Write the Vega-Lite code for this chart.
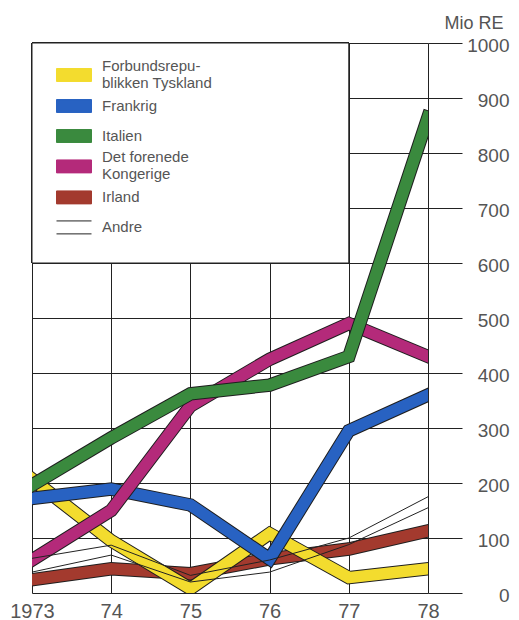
{
  "$schema": "https://vega.github.io/schema/vega-lite/v6.json",
  "width": 396,
  "height": 550,
  "autosize": "none",
  "padding": {"left": 32, "top": 43, "right": 91, "bottom": 27},
  "background": "white",
  "config": {"view": {"stroke": null}, "font": "Liberation Sans"},
  "data": {
    "values": [
      {"year": 1973, "land": "Forbundsrepublikken Tyskland", "line": "de", "value": 207},
      {"year": 1974, "land": "Forbundsrepublikken Tyskland", "line": "de", "value": 95},
      {"year": 1975, "land": "Forbundsrepublikken Tyskland", "line": "de", "value": 8},
      {"year": 1976, "land": "Forbundsrepublikken Tyskland", "line": "de", "value": 108},
      {"year": 1977, "land": "Forbundsrepublikken Tyskland", "line": "de", "value": 28},
      {"year": 1978, "land": "Forbundsrepublikken Tyskland", "line": "de", "value": 44},
      {"year": 1973, "land": "Frankrig", "line": "fr", "value": 172},
      {"year": 1974, "land": "Frankrig", "line": "fr", "value": 189},
      {"year": 1975, "land": "Frankrig", "line": "fr", "value": 160},
      {"year": 1976, "land": "Frankrig", "line": "fr", "value": 62},
      {"year": 1977, "land": "Frankrig", "line": "fr", "value": 295},
      {"year": 1978, "land": "Frankrig", "line": "fr", "value": 360},
      {"year": 1973, "land": "Italien", "line": "it", "value": 196},
      {"year": 1974, "land": "Italien", "line": "it", "value": 282},
      {"year": 1975, "land": "Italien", "line": "it", "value": 362},
      {"year": 1976, "land": "Italien", "line": "it", "value": 378},
      {"year": 1977, "land": "Italien", "line": "it", "value": 430},
      {"year": 1978, "land": "Italien", "line": "it", "value": 865},
      {"year": 1973, "land": "Det forenede Kongerige", "line": "uk", "value": 60},
      {"year": 1974, "land": "Det forenede Kongerige", "line": "uk", "value": 150},
      {"year": 1975, "land": "Det forenede Kongerige", "line": "uk", "value": 340},
      {"year": 1976, "land": "Det forenede Kongerige", "line": "uk", "value": 425},
      {"year": 1977, "land": "Det forenede Kongerige", "line": "uk", "value": 490},
      {"year": 1978, "land": "Det forenede Kongerige", "line": "uk", "value": 430},
      {"year": 1973, "land": "Irland", "line": "ie", "value": 24},
      {"year": 1974, "land": "Irland", "line": "ie", "value": 44},
      {"year": 1975, "land": "Irland", "line": "ie", "value": 35},
      {"year": 1976, "land": "Irland", "line": "ie", "value": 62},
      {"year": 1977, "land": "Irland", "line": "ie", "value": 80},
      {"year": 1978, "land": "Irland", "line": "ie", "value": 113},
      {"year": 1973, "land": "Andre", "line": "a", "value": 63},
      {"year": 1974, "land": "Andre", "line": "a", "value": 87},
      {"year": 1975, "land": "Andre", "line": "a", "value": 32},
      {"year": 1976, "land": "Andre", "line": "a", "value": 60},
      {"year": 1977, "land": "Andre", "line": "a", "value": 100},
      {"year": 1978, "land": "Andre", "line": "a", "value": 175},
      {"year": 1973, "land": "Andre", "line": "b", "value": 38},
      {"year": 1974, "land": "Andre", "line": "b", "value": 69},
      {"year": 1975, "land": "Andre", "line": "b", "value": 20},
      {"year": 1976, "land": "Andre", "line": "b", "value": 38},
      {"year": 1977, "land": "Andre", "line": "b", "value": 88},
      {"year": 1978, "land": "Andre", "line": "b", "value": 155}
    ]
  },
  "encoding": {
    "x": {
      "field": "year",
      "type": "quantitative",
      "scale": {"domain": [1973, 1978], "nice": false, "zero": false},
      "axis": {
        "orient": "bottom",
        "title": null,
        "values": [1973, 1974, 1975, 1976, 1977, 1978],
        "grid": true,
        "gridColor": "#222",
        "gridOpacity": 1,
        "gridWidth": 1,
        "ticks": false,
        "tickSize": 0,
        "domain": false,
        "labelExpr": "datum.value == 1973 ? '1973' : slice(toString(datum.value), 2)",
        "labelFontSize": 20,
        "labelColor": "#555",
        "labelBaseline": "alphabetic",
        "labelPadding": 24,
        "labelFlush": false,
        "labelOverlap": false
      }
    },
    "y": {
      "field": "value",
      "type": "quantitative",
      "scale": {"domain": [0, 1000], "nice": false},
      "axis": {
        "orient": "right",
        "values": [0, 100, 200, 300, 400, 500, 600, 700, 800, 900, 1000],
        "format": "d",
        "grid": true,
        "gridColor": "#222",
        "gridOpacity": 1,
        "gridWidth": 1,
        "ticks": true,
        "tickSize": 34,
        "tickColor": "#222",
        "tickWidth": 1,
        "domain": false,
        "labelAlign": "right",
        "labelBaseline": "middle",
        "labelPadding": 47,
        "labelOffset": 2,
        "labelFontSize": 19,
        "labelColor": "#555",
        "labelFlush": false,
        "labelOverlap": false,
        "title": "Mio RE",
        "titleAngle": 0,
        "titleX": 75,
        "titleY": -15,
        "titleAlign": "right",
        "titleBaseline": "alphabetic",
        "titleFontSize": 18,
        "titleFontWeight": "normal",
        "titleColor": "#555"
      }
    }
  },
  "layer": [
    {
      "mark": {"type": "rect", "fill": "white", "stroke": "#222", "strokeWidth": 1},
      "encoding": {
        "x": {"datum": 1973, "type": "quantitative"},
        "x2": {"datum": 1977},
        "y": {"datum": 600, "type": "quantitative"},
        "y2": {"datum": 1000}
      }
    },
    {
      "transform": [{"filter": "datum.land === 'Irland'"}],
      "layer": [
        {"mark": {"type": "line", "stroke": "#1e1e1e", "strokeWidth": 13.5, "strokeJoin": "miter", "strokeCap": "square", "clip": true}, "encoding": {}},
        {"mark": {"type": "line", "strokeWidth": 11.5, "strokeJoin": "miter", "strokeCap": "square", "clip": true},
         "encoding": {
           "color": {
             "field": "land",
             "type": "nominal",
             "scale": {
               "domain": ["Forbundsrepublikken Tyskland", "Frankrig", "Italien", "Det forenede Kongerige", "Irland", "Andre"],
               "range": ["#f3dc2e", "#2862c2", "#3a8a3e", "#b42a7a", "#a33a2e", "#222222"]
             },
             "legend": {
               "orient": "none",
               "legendX": 24,
               "legendY": 17,
               "title": null,
               "padding": 0,
               "rowPadding": -0.6,
               "clipHeight": 30,
               "symbolType": "M-1,-0.37H1V0.37H-1Z",
               "symbolSize": 1225,
               "symbolStrokeWidth": 1,
               "labelOffset": 10,
               "labelFontSize": 15,
               "labelColor": "#555",
               "labelLimit": 300,
               "labelExpr": "datum.value === 'Forbundsrepublikken Tyskland' ? ['Forbundsrepu-', 'blikken Tyskland'] : datum.value === 'Det forenede Kongerige' ? ['Det forenede', 'Kongerige'] : datum.label",
               "encode": {
                 "symbols": {
                   "update": {
                     "shape": {"signal": "datum.value === 'Andre' ? 'M-1,-0.37H1M-1,0.37H1' : 'M-1,-0.37H1V0.37H-1Z'"},
                     "fill": {"scale": "color", "field": "value"},
                     "stroke": {"value": "#222"},
                     "strokeWidth": {"value": 1},
                     "opacity": {"value": 1},
                     "fillOpacity": {"value": 1}
                   }
                 },
                 "labels": {
                   "update": {
                     "lineHeight": {"value": 17},
                     "dy": {"signal": "datum.value === 'Forbundsrepublikken Tyskland' || datum.value === 'Det forenede Kongerige' ? -9 : 0"}
                   }
                 }
               }
             }
           }
         }}
      ]
    },
    {
      "transform": [{"filter": "datum.land === 'Forbundsrepublikken Tyskland'"}],
      "layer": [
        {"mark": {"type": "line", "stroke": "#1e1e1e", "strokeWidth": 13.5, "strokeJoin": "miter", "strokeCap": "square", "clip": true}, "encoding": {}},
        {"mark": {"type": "line", "strokeWidth": 11.5, "strokeJoin": "miter", "strokeCap": "square", "clip": true},
         "encoding": {"color": {"field": "land", "type": "nominal", "legend": null}}}
      ]
    },
    {
      "transform": [{"filter": "datum.land === 'Frankrig'"}],
      "layer": [
        {"mark": {"type": "line", "stroke": "#1e1e1e", "strokeWidth": 13.5, "strokeJoin": "miter", "strokeCap": "square", "clip": true}, "encoding": {}},
        {"mark": {"type": "line", "strokeWidth": 11.5, "strokeJoin": "miter", "strokeCap": "square", "clip": true},
         "encoding": {"color": {"field": "land", "type": "nominal", "legend": null}}}
      ]
    },
    {
      "transform": [{"filter": "datum.land === 'Det forenede Kongerige'"}],
      "layer": [
        {"mark": {"type": "line", "stroke": "#1e1e1e", "strokeWidth": 13.5, "strokeJoin": "miter", "strokeCap": "square", "clip": true}, "encoding": {}},
        {"mark": {"type": "line", "strokeWidth": 11.5, "strokeJoin": "miter", "strokeCap": "square", "clip": true},
         "encoding": {"color": {"field": "land", "type": "nominal", "legend": null}}}
      ]
    },
    {
      "transform": [{"filter": "datum.land === 'Italien'"}],
      "layer": [
        {"mark": {"type": "line", "stroke": "#1e1e1e", "strokeWidth": 13.5, "strokeJoin": "miter", "strokeCap": "square", "clip": true}, "encoding": {}},
        {"mark": {"type": "line", "strokeWidth": 11.5, "strokeJoin": "miter", "strokeCap": "square", "clip": true},
         "encoding": {"color": {"field": "land", "type": "nominal", "legend": null}}}
      ]
    },
    {
      "transform": [{"filter": "datum.land === 'Andre'"}],
      "mark": {"type": "line", "strokeWidth": 1, "clip": true},
      "encoding": {
        "color": {"field": "land", "type": "nominal", "legend": null},
        "detail": {"field": "line", "type": "nominal"}
      }
    }
  ]
}
